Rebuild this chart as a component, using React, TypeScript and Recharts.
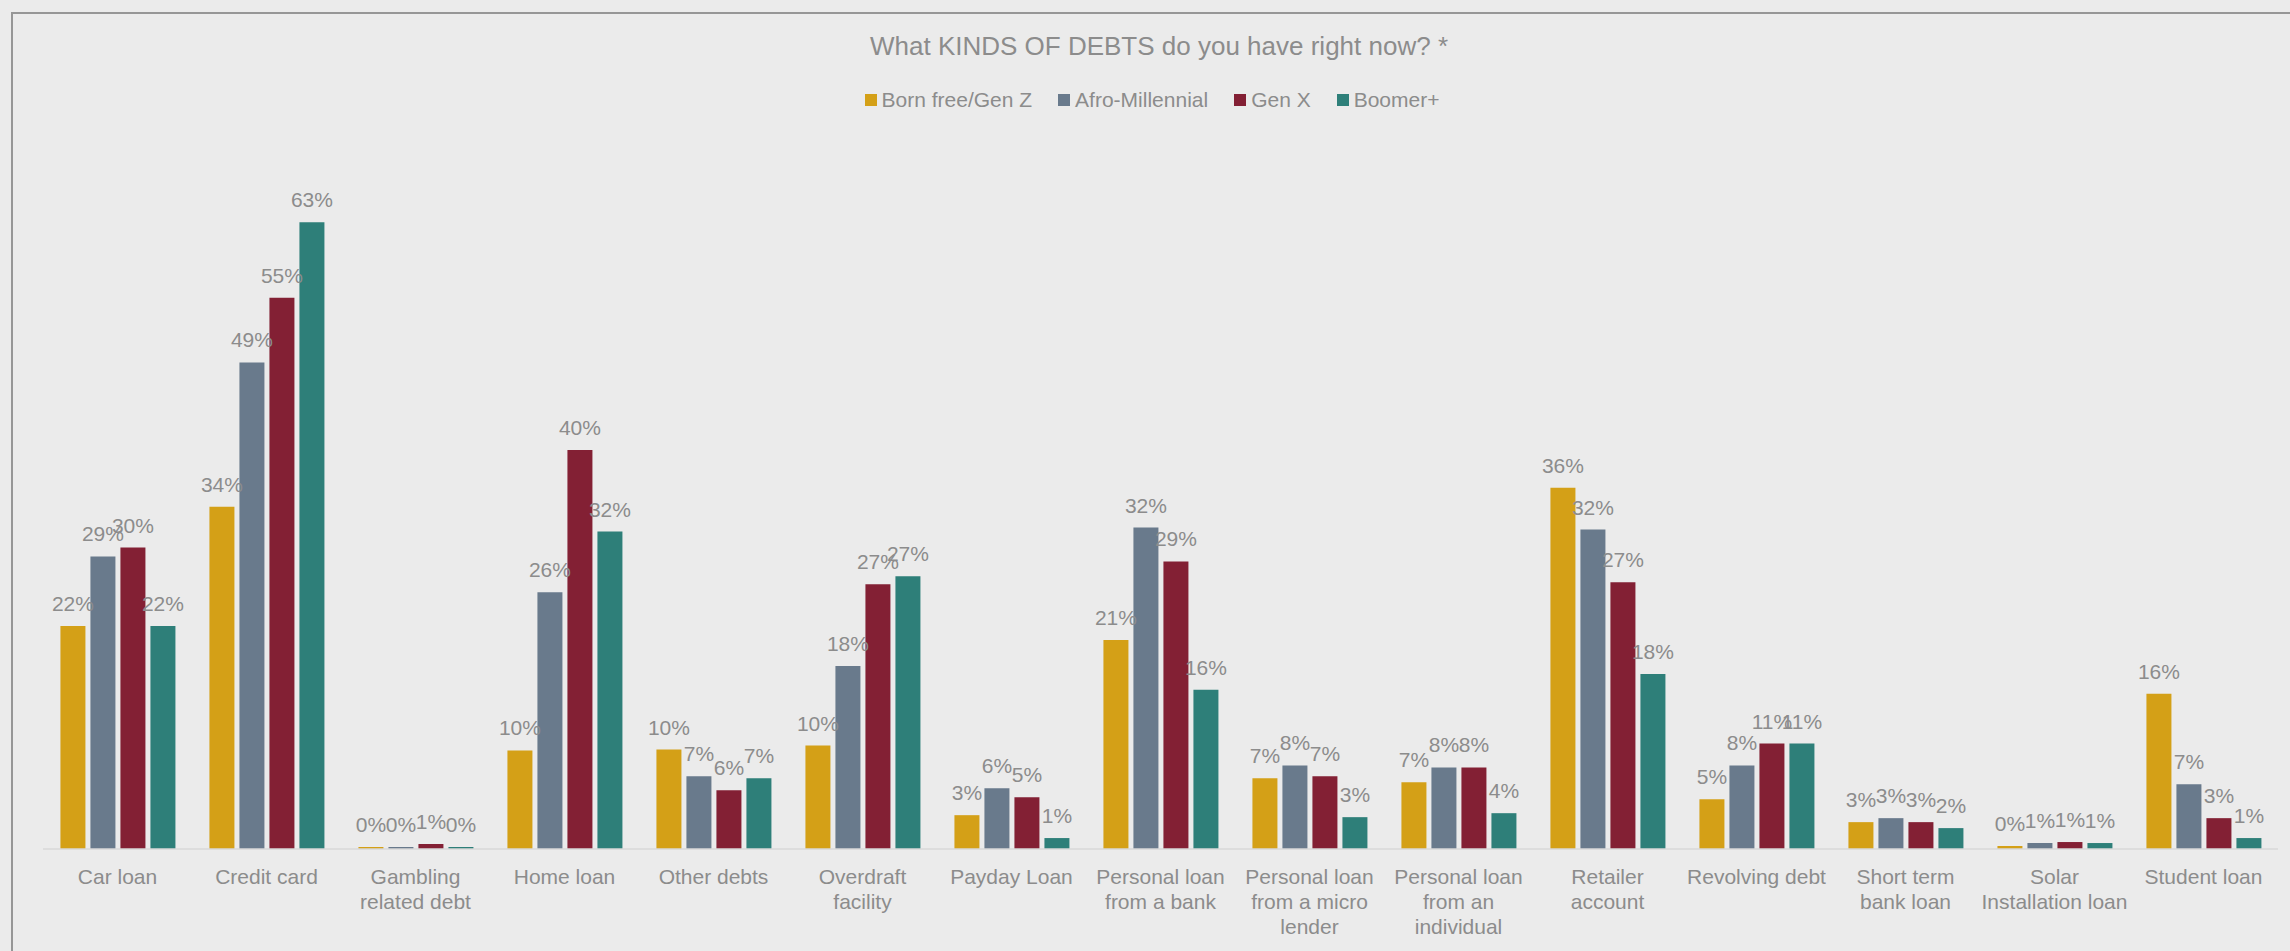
import React from "react";
import { BarChart, Bar, XAxis, YAxis, Legend, LabelList } from "recharts";

const categories = [
  "Car loan",
  "Credit card",
  "Gambling\nrelated debt",
  "Home loan",
  "Other debts",
  "Overdraft\nfacility",
  "Payday Loan",
  "Personal loan\nfrom a bank",
  "Personal loan\nfrom a micro\nlender",
  "Personal loan\nfrom an\nindividual",
  "Retailer\naccount",
  "Revolving debt",
  "Short term\nbank loan",
  "Solar\nInstallation loan",
  "Student loan",
];

const bornFree = [22.4, 34.4, 0.2, 9.9, 10.0, 10.4, 3.4, 21.0, 7.1, 6.7, 36.3, 5.0, 2.7, 0.3, 15.6];
const afroMillennial = [29.4, 48.9, 0.2, 25.8, 7.3, 18.4, 6.1, 32.3, 8.4, 8.2, 32.1, 8.4, 3.1, 0.6, 6.5];
const genX = [30.3, 55.4, 0.5, 40.1, 5.9, 26.6, 5.2, 28.9, 7.3, 8.2, 26.8, 10.6, 2.7, 0.7, 3.1];
const boomer = [22.4, 63.0, 0.2, 31.9, 7.1, 27.4, 1.1, 16.0, 3.2, 3.6, 17.6, 10.6, 2.1, 0.6, 1.1];

const seriesNames = ["Born free/Gen Z", "Afro-Millennial", "Gen X", "Boomer+"];
const seriesKeys = ["bornFree", "afroMillennial", "genX", "boomer"];
const seriesColors = ["#D4A017", "#697A8C", "#832034", "#2E7F79"];

const title = "What KINDS OF DEBTS do you have right now? *";

const data = categories.map((c, i) => ({
  name: c,
  bornFree: bornFree[i],
  afroMillennial: afroMillennial[i],
  genX: genX[i],
  boomer: boomer[i],
}));

const FONT = '"Liberation Sans", Arial, sans-serif';
const TEXT = "#8C8C8C";

const CategoryTick = (props: any) => {
  const { x, y, payload } = props;
  const lines = String(payload.value).split("\n");
  return (
    <g>
      {lines.map((l: string, i: number) => (
        <text
          key={i}
          x={x}
          y={y + 35 + i * 25}
          textAnchor="middle"
          fill={TEXT}
          fontSize={21}
          fontFamily={FONT}
        >
          {l}
        </text>
      ))}
    </g>
  );
};

const LegendContent = () => (
  <div
    style={{
      height: 24,
      display: "flex",
      justifyContent: "center",
      alignItems: "center",
      fontFamily: FONT,
      fontSize: 21,
      color: TEXT,
      paddingLeft: 14,
    }}
  >
    {seriesNames.map((n, i) => (
      <div key={n} style={{ display: "flex", alignItems: "center", marginRight: i < 3 ? 26 : 0 }}>
        <div style={{ width: 12, height: 12, background: seriesColors[i], marginRight: 5 }} />
        <span style={{ lineHeight: "24px" }}>{n}</span>
      </div>
    ))}
  </div>
);

export default function App() {
  return (
    <div
      style={{
        position: "relative",
        width: 2290,
        height: 951,
        background: "#EBEBEB",
        overflow: "hidden",
      }}
    >
      <style>{`body{margin:0}`}</style>
      <div
        style={{
          position: "absolute",
          left: 11,
          top: 12,
          width: 2400,
          height: 2,
          background: "#969696",
        }}
      />
      <div
        style={{
          position: "absolute",
          left: 11,
          top: 12,
          width: 2,
          height: 950,
          background: "#969696",
        }}
      />
      <div
        style={{
          position: "absolute",
          left: 14,
          width: 2290,
          top: 31,
          textAlign: "center",
          fontFamily: FONT,
          fontSize: 26,
          lineHeight: "30px",
          color: TEXT,
        }}
      >
        {title}
      </div>
      <div style={{ position: "absolute", left: 0, top: 0 }}>
        <BarChart
          width={2290}
          height={951}
          data={data}
          margin={{ top: 128.5, right: 12, bottom: 2, left: 43 }}
          barCategoryGap="11.7%"
          barGap={5}
        >
          <XAxis
            dataKey="name"
            interval={0}
            height={100}
            tickLine={false}
            tickSize={0}
            tickMargin={0}
            axisLine={{ stroke: "#D9D9D9", strokeWidth: 1.5 }}
            tick={<CategoryTick />}
          />
          <YAxis hide domain={[0, 70]} />
          <Legend
            verticalAlign="top"
            content={<LegendContent />}
            wrapperStyle={{ top: 88, left: 0, width: 2290 }}
          />
          {seriesKeys.map((k, i) => (
            <Bar
              key={k}
              dataKey={k}
              name={seriesNames[i]}
              fill={seriesColors[i]}
              isAnimationActive={false}
            >
              <LabelList
                dataKey={k}
                position="top"
                offset={15}
                formatter={(v: any) => `${Math.round(Number(v))}%`}
                fill={TEXT}
                fontSize={21}
                fontFamily={FONT}
              />
            </Bar>
          ))}
        </BarChart>
      </div>
    </div>
  );
}
